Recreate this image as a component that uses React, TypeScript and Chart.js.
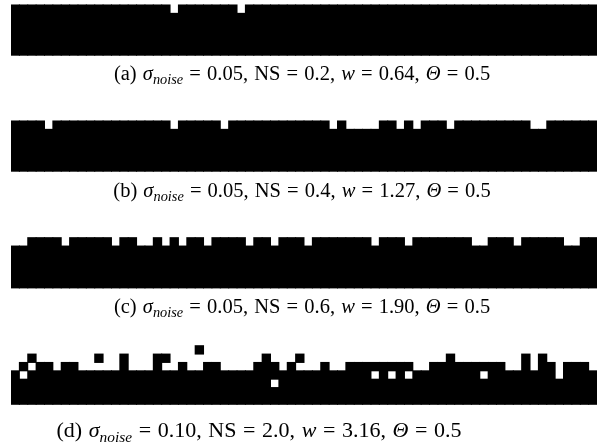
import React, { useEffect, useRef } from "react";
import { Chart, registerables } from "chart.js";

Chart.register(...registerables);

// ---- data: binary images, rows listed top to bottom, '#' = black cell, '.' = white cell
const GRID_A = [
  "########## #########. #######.## ########## ########## ########## ##########",
  "########## ########## ########## ########## ########## ########## ##########",
  "########## ########## ########## ########## ########## ########## ##########",
  "########## ########## ########## ########## ########## ########## ##########",
  "########## ########## ########## ########## ########## ########## ##########",
  "########## ########## ########## ########## ########## ########## ##########",
];

const GRID_B = [
  "####.##### #########. #####.#### ########.# ....##.#.# ##.####### ##..######",
  "########## ########## ########## ########## ########## ########## ##########",
  "########## ########## ########## ########## ########## ########## ##########",
  "########## ########## ########## ########## ########## ########## ##########",
  "########## ########## ########## ########## ########## ########## ##########",
  "########## ########## ########## ########## ########## ########## ##########",
];

const GRID_C = [
  "..####.### ##.##..#.# .##.####.# #.###.#### ###.###.## #####..### .#####..##",
  "########## ########## ########## ########## ########## ########## ##########",
  "########## ########## ########## ########## ########## ########## ##########",
  "########## ########## ########## ########## ########## ########## ##########",
  "########## ########## ########## ########## ########## ########## ##########",
  "########## ########## ########## ########## ########## ########## ##########",
];

const GRID_D = [
  ".......... .......... ..#....... .......... .......... .......... ..........",
  "..#....... #..#...##. .......... #...#..... .......... ..#....... .#.#......",
  ".#.##.##.. ...#...#.. #..##....# ##.#...#.. ########.. #########. .#.##.###.",
  "#.######## ########## ########## ########## ###.#.#.## ######.### #####.####",
  "########## ########## ########## #.######## ########## ########## ##########",
  "########## ########## ########## ########## ########## ########## ##########",
  "########## ########## ########## ########## ########## ########## ##########",
];

const CAPTION_LABELS = ["a", "b", "c", "d"];
const SIGMA_NOISE = ["0.05", "0.05", "0.05", "0.10"];
const NS_VALUES = ["0.2", "0.4", "0.6", "2.0"];
const W_VALUES = ["0.64", "1.27", "1.90", "3.16"];
const THETA_VALUES = ["0.5", "0.5", "0.5", "0.5"];

// ---- layout
const W = 601;
const H = 443;
const PAD_LEFT = 11;
const PAD_RIGHT = 4;
const NCOLS = 70;
const CELL = (W - PAD_LEFT - PAD_RIGHT) / NCOLS;
const STRIP_BOTTOM_PX = [55.2, 171.2, 287.9, 404.3];
const CAPTION_TOP = [63, 179.5, 296, 418.5];
const CAPTION_CENTER = [302, 302, 302, 259];
const CAPTION_SIZE = [20.5, 20.5, 20.5, 22];

const STRIPS = [GRID_A, GRID_B, GRID_C, GRID_D];
const COLUMN_LABELS = Array.from({ length: NCOLS }, (_, i) => String(i + 1));

function buildDatasets() {
  const datasets: any[] = [];
  STRIPS.forEach((grid, si) => {
    const rows = grid.map((r) => r.replace(/\s/g, "")).reverse(); // rows[0] = bottom row
    const base = (H - STRIP_BOTTOM_PX[si]) / CELL;
    const runsPerCol: [number, number][][] = [];
    for (let c = 0; c < NCOLS; c++) {
      const runs: [number, number][] = [];
      let start = -1;
      for (let r = 0; r <= rows.length; r++) {
        const on = r < rows.length && rows[r][c] === "#";
        if (on && start < 0) start = r;
        if (!on && start >= 0) {
          runs.push([base + start, base + r]);
          start = -1;
        }
      }
      runsPerCol.push(runs);
    }
    const maxRuns = Math.max(...runsPerCol.map((r) => r.length));
    for (let k = 0; k < maxRuns; k++) {
      datasets.push({
        data: runsPerCol.map((r) => (r[k] ? r[k] : null)),
        backgroundColor: "#000000",
        borderWidth: 0,
        borderSkipped: false,
        barPercentage: 1,
        categoryPercentage: 1,
        grouped: false,
        inflateAmount: 0.5,
      });
    }
  });
  return datasets;
}

function Eq() {
  return <span style={{ margin: "0 0.3em" }}>=</span>;
}

function Caption({ i }: { i: number }) {
  const size = CAPTION_SIZE[i];
  return (
    <div
      style={{
        position: "absolute",
        top: CAPTION_TOP[i],
        left: CAPTION_CENTER[i] - 300,
        width: 600,
        textAlign: "center",
        fontFamily: '"Liberation Serif", "DejaVu Serif", serif',
        fontSize: size,
        lineHeight: 1,
        whiteSpace: "nowrap",
        color: "#000",
        wordSpacing: "0.05em",
      }}
    >
      ({CAPTION_LABELS[i]}){" "}
      <i>σ</i>
      <sub style={{ fontStyle: "italic", fontSize: "0.7em", verticalAlign: "-0.3em", lineHeight: 0 }}>noise</sub>
      <Eq />
      {SIGMA_NOISE[i]}, NS
      <Eq />
      {NS_VALUES[i]}, <i>w</i>
      <Eq />
      {W_VALUES[i]}, <i>Θ</i>
      <Eq />
      {THETA_VALUES[i]}
    </div>
  );
}

export default function App() {
  const ref = useRef<HTMLCanvasElement | null>(null);
  useEffect(() => {
    if (!ref.current) return;
    const chart = new Chart(ref.current, {
      type: "bar",
      data: { labels: COLUMN_LABELS, datasets: buildDatasets() },
      options: {
        animation: false,
        responsive: false,
        maintainAspectRatio: false,
        layout: { padding: { left: PAD_LEFT, right: PAD_RIGHT, top: 0, bottom: 0 } },
        plugins: { legend: { display: false }, tooltip: { enabled: false } },
        scales: {
          x: { type: "category", display: false, offset: true, grid: { display: false } },
          y: { type: "linear", display: false, min: 0, max: H / CELL, grid: { display: false } },
        },
      },
    });
    return () => chart.destroy();
  }, []);
  return (
    <div style={{ position: "fixed", left: 0, top: 0, width: W, height: H, background: "#fff", overflow: "hidden" }}>
      <canvas ref={ref} width={W} height={H} style={{ position: "absolute", left: 0, top: 0, width: W, height: H }} />
      {CAPTION_LABELS.map((_, i) => (
        <Caption key={i} i={i} />
      ))}
    </div>
  );
}
